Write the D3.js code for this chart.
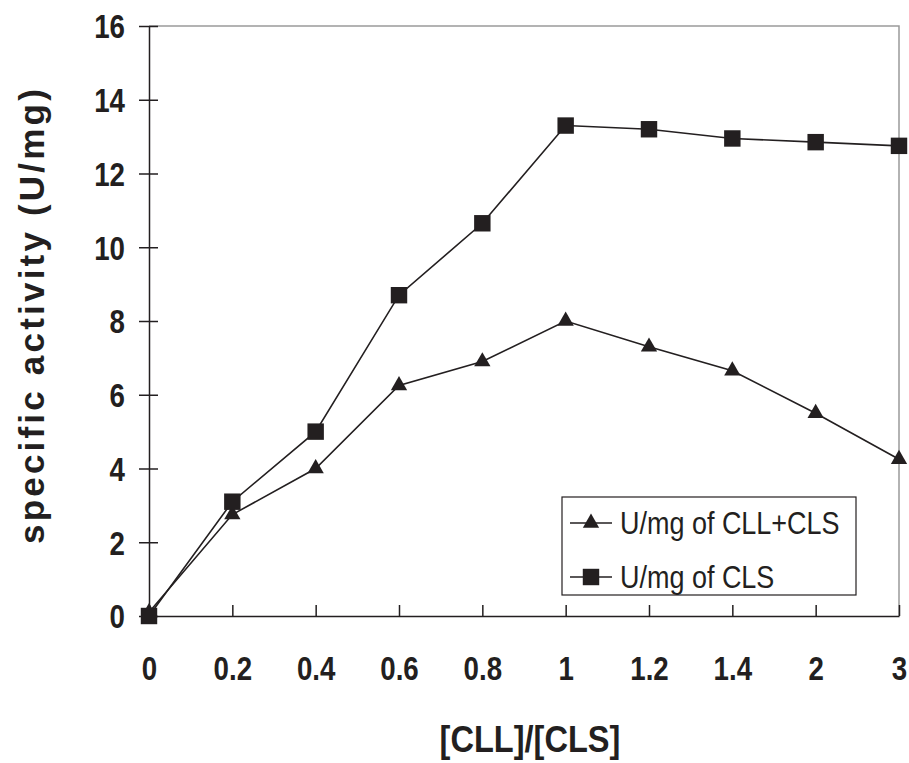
<!DOCTYPE html>
<html>
<head>
<meta charset="utf-8">
<script src="https://cdn.jsdelivr.net/npm/d3@7"></script>
<style>
  body { margin: 0; background: #fff; }
  svg { display: block; }
  .tick text { font-family: "Liberation Sans", Arial, sans-serif; font-weight: bold; font-size: 33px; fill: #231f20; }
</style>
</head>
<body>
<svg id="chart" width="909" height="763"></svg>
<script>
// ratio categories on the x axis (evenly spaced)
var ratios = ["0", "0.2", "0.4", "0.6", "0.8", "1", "1.2", "1.4", "2", "3"];
// U/mg of CLL+CLS (triangles)
var cllcls = [0.1, 2.75, 4.0, 6.25, 6.9, 8.0, 7.3, 6.65, 5.5, 4.25];
// U/mg of CLS (squares)
var cls = [0.0, 3.1, 5.0, 8.7, 10.65, 13.3, 13.2, 12.95, 12.85, 12.75];
var yTicks = [0, 2, 4, 6, 8, 10, 12, 14, 16];

var svg = d3.select("#chart"),
    margin = {top: 26, right: 10, bottom: 147, left: 149},
    width = +svg.attr("width") - margin.left - margin.right,
    height = +svg.attr("height") - margin.top - margin.bottom,
    g = svg.append("g").attr("transform", "translate(" + margin.left + "," + margin.top + ")");

var ink = "#231f20";
var narrow = 0.84; // squeeze to mimic a narrow face

var x = d3.scalePoint().domain(ratios).range([0, width]);
var y = d3.scaleLinear().domain([0, 16]).range([height, 0]);

// top and right frame (grey)
g.append("path")
    .attr("d", "M0,0H" + width + "V" + height)
    .attr("fill", "none")
    .attr("stroke", "#9a9a9a")
    .attr("stroke-width", 1.5);

// x axis, ticks pointing inwards
var xAxis = g.append("g")
    .attr("transform", "translate(0," + height + ")")
    .call(d3.axisBottom(x).tickSizeInner(-11).tickSizeOuter(0).tickPadding(0));
xAxis.select(".domain").attr("stroke", ink).attr("stroke-width", 1.5);
xAxis.selectAll(".tick line").attr("stroke", ink).attr("stroke-width", 1.5);
xAxis.selectAll(".tick text")
    .attr("y", 64).attr("dy", null)
    .attr("transform", "scale(" + narrow + ",1)");

// y axis, ticks crossing
var yAxis = g.append("g")
    .call(d3.axisLeft(y).tickValues(yTicks).tickSizeInner(10).tickSizeOuter(0));
yAxis.select(".domain").attr("stroke", ink).attr("stroke-width", 1.5);
yAxis.selectAll(".tick line").attr("x2", 9).attr("x1", -10).attr("stroke", ink).attr("stroke-width", 1.5);
yAxis.selectAll(".tick text")
    .attr("x", -24 / narrow).attr("dy", "0.36em")
    .attr("transform", "scale(" + narrow + ",1)");

// lines
var line = d3.line()
    .x(function(d, i) { return x(ratios[i]); })
    .y(function(d) { return y(d); });

[cls, cllcls].forEach(function(s) {
  g.append("path")
      .datum(s)
      .attr("fill", "none")
      .attr("stroke", ink)
      .attr("stroke-width", 1.6)
      .attr("d", line);
});

var tri = d3.symbol().type(d3.symbolTriangle).size(115);
var sq = d3.symbol().type(d3.symbolSquare).size(270);

g.selectAll(".tri")
    .data(cllcls)
    .enter().append("path")
    .attr("class", "tri")
    .attr("transform", function(d, i) { return "translate(" + x(ratios[i]) + "," + y(d) + ")"; })
    .attr("d", tri)
    .attr("fill", ink);

g.selectAll(".sq")
    .data(cls)
    .enter().append("path")
    .attr("class", "sq")
    .attr("transform", function(d, i) { return "translate(" + x(ratios[i]) + "," + y(d) + ")"; })
    .attr("d", sq)
    .attr("fill", ink);

// legend
var legend = svg.append("g").attr("transform", "translate(562,497)");
legend.append("rect")
    .attr("width", 294).attr("height", 98)
    .attr("fill", "#fff").attr("stroke", ink).attr("stroke-width", 1.2);

var legendItems = [
  {label: "U/mg of CLL+CLS", sym: tri},
  {label: "U/mg of CLS", sym: sq}
];
var li = legend.selectAll(".li")
    .data(legendItems)
    .enter().append("g")
    .attr("transform", function(d, i) { return "translate(0," + (26 + i * 54) + ")"; });
li.append("line")
    .attr("x1", 8).attr("x2", 50)
    .attr("stroke", ink).attr("stroke-width", 1.6);
li.append("path")
    .attr("transform", "translate(29,0)")
    .attr("d", function(d) { return d.sym(); })
    .attr("fill", ink);
li.append("text")
    .attr("transform", "translate(58,0) scale(0.87,1)")
    .attr("dy", "0.36em")
    .attr("font-family", "'Liberation Sans', Arial, sans-serif")
    .attr("font-size", 31)
    .attr("fill", ink)
    .text(function(d) { return d.label; });

// axis titles
svg.append("text")
    .attr("transform", "translate(44,315) rotate(-90)")
    .attr("text-anchor", "middle")
    .attr("font-family", "'Liberation Sans', Arial, sans-serif")
    .attr("font-weight", "bold")
    .attr("font-size", 35)
    .attr("letter-spacing", 3.2)
    .attr("fill", ink)
    .text("specific activity (U/mg)");

svg.append("text")
    .attr("transform", "translate(530,752) scale(0.88,1)")
    .attr("text-anchor", "middle")
    .attr("font-family", "'Liberation Sans', Arial, sans-serif")
    .attr("font-weight", "bold")
    .attr("font-size", 37)
    .attr("fill", ink)
    .text("[CLL]/[CLS]");
</script>
</body>
</html>
